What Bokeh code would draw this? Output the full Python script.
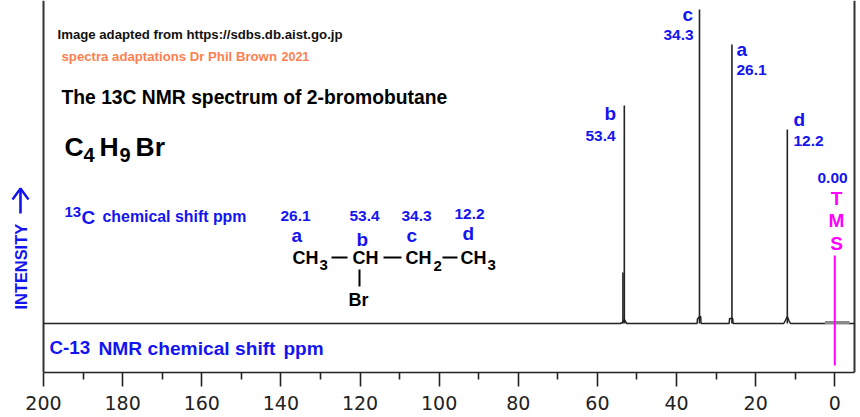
from math import pi
from bokeh.plotting import figure
from bokeh.models import Label, FixedTicker, Range1d
from bokeh.embed import file_html
from bokeh.resources import INLINE

# spectrum values (ppm, relative intensity)
peak_ppm = [53.2, 34.2, 26.0, 12.0]
peak_height = [218, 314, 279, 194]
shoulder_ppm = [53.55]
shoulder_height = [51]
base_ppm = [200, 54.2, 53.7, 53.2, 52.6, 34.8, 34.7, 34.5, 34.2, 33.9, 33.8, 26.7, 26.6, 26.3, 26.0, 25.8, 25.7,
            12.9, 12.5, 12.0, 11.6, 11.2, -4.98]
base_int = [0, 0, 1, 4, 0, 0, 5, 5, 7, 7, 0, 0, 5, 5, 5, 5, 0, 0, 3, 7, 3, 0, 0]
tms_ppm = [0.0]
tms_top = [68]
tms_bottom = [-42]
tms_band_ppm = [2.5, -3.7]
tms_band_int = [1, 1]
major_ticks = [200, 180, 160, 140, 120, 100, 80, 60, 40, 20, 0]
minor_ticks = [190, 170, 150, 130, 110, 90, 70, 50, 30, 10]
axis_limits = (-4.98, 200)

W, H = 860, 417
BLUE = "#1414f0"
FONT = "Liberation Sans"


def dx(px):
    return 200 + (px - 43) * (-4.98 - 200) / (854 - 43)


def dy(py):
    return 323 - py


p = figure(width=W, height=H, output_backend="svg", toolbar_location=None,
           x_range=Range1d(dx(0), dx(860)), y_range=Range1d(-49, 323),
           min_border_left=0, min_border_right=0, min_border_top=0, min_border_bottom=45,
           background_fill_color="white", border_fill_color="white")
p.grid.visible = False
p.yaxis.visible = False
p.outline_line_color = None

ax = p.xaxis[0]
ax.bounds = axis_limits
ax.ticker = FixedTicker(ticks=major_ticks, minor_ticks=minor_ticks)
ax.major_tick_in = 0
ax.major_tick_out = 14
ax.minor_tick_in = 0
ax.minor_tick_out = 7
ax.major_tick_line_width = 1.6
ax.minor_tick_line_width = 1.6
ax.major_tick_line_color = "#222222"
ax.minor_tick_line_color = "#222222"
ax.axis_line_color = "#222222"
ax.axis_line_width = 1.6
ax.major_label_text_font = "DejaVu Sans"
ax.major_label_text_font_size = "19px"
ax.major_label_text_color = "#222222"
ax.major_label_standoff = 9


def T(s, px, py, size, color="black", align="left", bold=True, angle=0, font=FONT):
    # px, py: left end of the text on its baseline, in picture pixels
    if angle:
        px -= 0.36 * size
    else:
        py -= 0.36 * size
    p.add_layout(Label(x=dx(px), y=dy(py), text=s, text_font=font, text_font_size=f"{size}px",
                       text_color=color, text_align=align, text_baseline="middle",
                       text_font_style="bold" if bold else "normal", angle=angle))


# frame sides
p.line([axis_limits[1]] * 2, [-49, 323], line_color="#333333", line_width=2)
p.line([axis_limits[0]] * 2, [-49, 323], line_color="#333333", line_width=2)

# spectrum
p.line(base_ppm, base_int, line_color="#222222", line_width=1.5)
p.segment(peak_ppm, [0] * 4, peak_ppm, peak_height, line_color="#222222", line_width=1.6)
p.segment(shoulder_ppm, [0], shoulder_ppm, shoulder_height, line_color="#222222", line_width=1.6)
p.line(tms_band_ppm, tms_band_int, line_color="#8a8a8a", line_width=3)
p.segment(tms_ppm, tms_bottom, tms_ppm, tms_top, line_color="#ff00ff", line_width=2)

# header
T("Image adapted from https://sdbs.db.aist.go.jp", 57, 39, 13.2, "#111111")
T("spectra adaptations Dr Phil Brown", 61, 61, 13.2, "#ff7f50")
T("2021", 281, 60, 12.5, "#ff7f50")
T("The 13C NMR spectrum of 2-bromobutane", 61, 104, 19.3)

# formula
T("C", 64, 156, 26.5)
T("4", 83, 162, 20)
T("H", 99, 156, 26.5)
T("9", 119, 162, 20)
T("Br", 135, 156, 26.5)

# chemical shift table
T("13", 64, 217, 15, BLUE)
T("C", 81, 224, 19, BLUE)
T("chemical shift ppm", 102, 222, 15.9, BLUE)
for s, x, y in [("26.1", 280, 221), ("53.4", 349, 221), ("34.3", 401, 221), ("12.2", 454, 219)]:
    T(s, x, y, 15.5, BLUE)
for s, x, y in [("a", 291, 242), ("b", 356, 246), ("c", 406, 242), ("d", 462, 240)]:
    T(s, x, y, 19, BLUE)

# molecule
for s, x, y, size in [("CH", 292, 264, 18), ("3", 319, 270, 15), ("CH", 352, 264, 18), ("CH", 405, 264, 18),
                      ("2", 433, 271, 15), ("CH", 460, 264, 18), ("3", 487, 270, 15), ("Br", 348, 306, 18)]:
    T(s, x, y, size)
bonds = [(331, 257, 347, 257), (383, 257, 401, 257), (442, 257, 457, 257), (359, 269, 359, 286)]
for x0, y0, x1, y1 in bonds:
    p.line([dx(x0), dx(x1)], [dy(y0), dy(y1)], line_color="black", line_width=2)

# axis caption
T("C-13", 49, 354, 18.8, BLUE)
T("NMR chemical shift", 98, 355, 19.2, BLUE)
T("ppm", 283, 355, 19, BLUE)

# intensity label and arrow
T("INTENSITY", 26.5, 309, 16.4, BLUE, angle=pi / 2)
p.line([dx(20), dx(20)], [dy(213), dy(188)], line_color=BLUE, line_width=2.6)
p.line([dx(12), dx(20), dx(28)], [dy(199), dy(188), dy(199)], line_color=BLUE, line_width=2.4)

# peak labels
for s, x, y, size in [("c", 682, 21, 19), ("34.3", 663, 40, 15.5), ("a", 736, 56, 19), ("26.1", 736, 75, 15.5),
                      ("b", 604, 120, 19), ("53.4", 585, 141, 15.5), ("d", 793, 126, 19), ("12.2", 793, 146, 15.5),
                      ("0.00", 817, 183, 15.5)]:
    T(s, x, y, size, BLUE)
for s, x, y in [("T", 836, 205), ("M", 836, 227), ("S", 836, 250)]:
    T(s, x, y, 19, "#ff00ff", align="center")

open("out.html", "w").write(file_html(p, INLINE))
